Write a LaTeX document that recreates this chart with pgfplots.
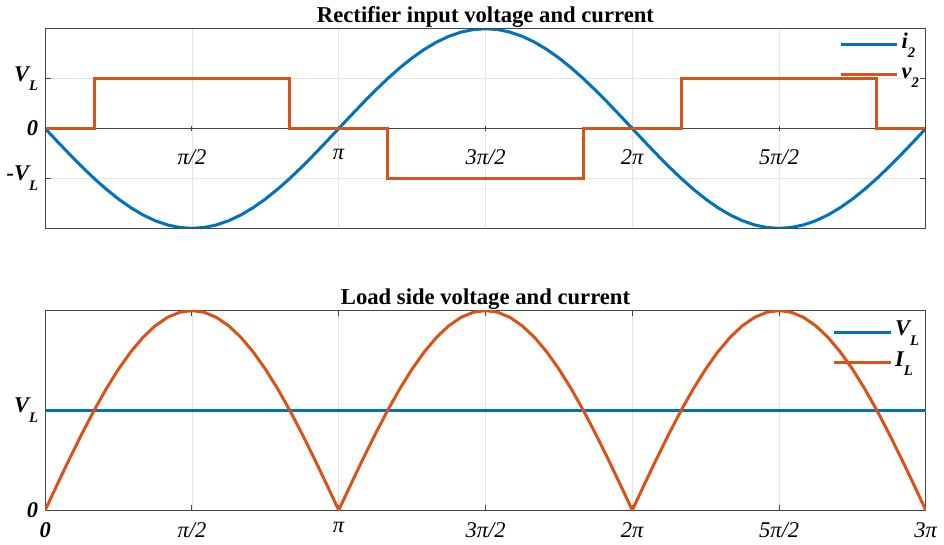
\documentclass[border=0pt]{standalone}
\usepackage{fontspec}
\setmainfont{Liberation Serif}
\usepackage{pgfplots}
\usepackage{pgfplotstable}
\pgfplotsset{compat=1.18}

\definecolor{mblue}{RGB}{0,114,189}
\definecolor{morange}{RGB}{217,83,25}
\definecolor{axgray}{RGB}{70,70,70}

\newcommand\sub[1]{\raisebox{-0.95ex}{\fontsize{7.3}{8}\selectfont #1}}
\newcommand\bi[1]{\textbf{\textit{#1}}}

% angle (deg), transformer secondary current i2, load current IL
\pgfplotstableread{
deg    i2       IL
0      0        0
7.5   -0.2611   0.2611
15    -0.5176   0.5176
22.5  -0.7654   0.7654
30    -1.0000   1.0000
37.5  -1.2175   1.2175
45    -1.4142   1.4142
52.5  -1.5867   1.5867
60    -1.7321   1.7321
67.5  -1.8478   1.8478
75    -1.9319   1.9319
82.5  -1.9829   1.9829
90    -2.0000   2.0000
97.5  -1.9829   1.9829
105   -1.9319   1.9319
112.5 -1.8478   1.8478
120   -1.7321   1.7321
127.5 -1.5867   1.5867
135   -1.4142   1.4142
142.5 -1.2175   1.2175
150   -1.0000   1.0000
157.5 -0.7654   0.7654
165   -0.5176   0.5176
172.5 -0.2611   0.2611
180    0        0
187.5  0.2611   0.2611
195    0.5176   0.5176
202.5  0.7654   0.7654
210    1.0000   1.0000
217.5  1.2175   1.2175
225    1.4142   1.4142
232.5  1.5867   1.5867
240    1.7321   1.7321
247.5  1.8478   1.8478
255    1.9319   1.9319
262.5  1.9829   1.9829
270    2.0000   2.0000
277.5  1.9829   1.9829
285    1.9319   1.9319
292.5  1.8478   1.8478
300    1.7321   1.7321
307.5  1.5867   1.5867
315    1.4142   1.4142
322.5  1.2175   1.2175
330    1.0000   1.0000
337.5  0.7654   0.7654
345    0.5176   0.5176
352.5  0.2611   0.2611
360    0        0
367.5 -0.2611   0.2611
375   -0.5176   0.5176
382.5 -0.7654   0.7654
390   -1.0000   1.0000
397.5 -1.2175   1.2175
405   -1.4142   1.4142
412.5 -1.5867   1.5867
420   -1.7321   1.7321
427.5 -1.8478   1.8478
435   -1.9319   1.9319
442.5 -1.9829   1.9829
450   -2.0000   2.0000
457.5 -1.9829   1.9829
465   -1.9319   1.9319
472.5 -1.8478   1.8478
480   -1.7321   1.7321
487.5 -1.5867   1.5867
495   -1.4142   1.4142
502.5 -1.2175   1.2175
510   -1.0000   1.0000
517.5 -0.7654   0.7654
525   -0.5176   0.5176
532.5 -0.2611   0.2611
540    0        0
}\wavedata

\pgfplotsset{
  wave/.style={
    scale only axis, width=439pt, height=99.5pt,
    xmin=0, xmax=540,
    tick align=inside, major tick length=2.8pt,
    tick style={axgray, line width=0.5pt},
    grid=major, grid style={black!11, line width=0.45pt},
    tick label style={font=\fontsize{11.2}{13}\selectfont},
    title style={font=\bfseries\fontsize{11.3}{13}\selectfont, yshift=-9pt},
    legend cell align=left,
    legend style={draw=none, fill=none, font=\fontsize{11.2}{13}\selectfont,
      nodes={inner xsep=1.5pt, inner ysep=0.25pt, text height=9pt, text depth=5.5pt},
      row sep=0pt},
    legend image code/.code={\draw[#1, line width=1.5pt] (0pt,0pt) -- (28pt,0pt);},
  },
}

\begin{document}
\begin{tikzpicture}
\begin{axis}[wave, at={(0,0)}, anchor=south west,
  ymin=-2, ymax=2,
  axis x line=middle, axis y line=box,
  axis line style={-, axgray, line width=0.5pt},
  hide obscured x ticks=false, hide obscured y ticks=false,
  xtick={90,180,270,360,450},
  xticklabels={\textit{π/2}, \textit{π}, \textit{3π/2}, \textit{2π}, \textit{5π/2}},
  xticklabel style={yshift=-5.5pt},
  ytick={-1,0,1},
  yticklabels={\bi{-V\sub{L}}, \bi{0}, \bi{V\sub{L}}},
  title={Rectifier input voltage and current},
  legend style={at={(1.003,1.018)}, anchor=north east},
]
\addplot[mblue, line width=1.5pt] table[x=deg, y=i2] {\wavedata};
\addlegendentry{\bi{i\sub{2}}}
\addplot[morange, line width=1.5pt] coordinates {
  (0,0) (30,0) (30,1) (150,1) (150,0) (210,0) (210,-1) (330,-1)
  (330,0) (390,0) (390,1) (510,1) (510,0) (540,0)};
\addlegendentry{\bi{v\sub{2}}}
\draw[axgray, line width=0.5pt] (rel axis cs:0,0) rectangle (rel axis cs:1,1);
\end{axis}

\begin{axis}[wave, at={(0,-140.5pt)}, anchor=south west,
  ymin=0, ymax=2,
  axis line style={axgray, line width=0.5pt},
  xtick={0,90,180,270,360,450,540},
  xticklabels={\bi{0}, \textit{π/2}, \textit{π}, \textit{3π/2}, \textit{2π}, \textit{5π/2}, \textit{3π}},
  xticklabel style={yshift=-2.5pt},
  ytick={0,1},
  yticklabels={\bi{0}, \bi{V\sub{L}}},
  title={Load side voltage and current},
  legend style={at={(1.003,0.988)}, anchor=north east},
]
\addplot[mblue, line width=1.5pt] coordinates {(0,1) (540,1)};
\addlegendentry{\bi{V\sub{L}}}
\addplot[morange, line width=1.5pt] table[x=deg, y=IL] {\wavedata};
\addlegendentry{\bi{I\sub{L}}}
\end{axis}
\end{tikzpicture}
\end{document}
